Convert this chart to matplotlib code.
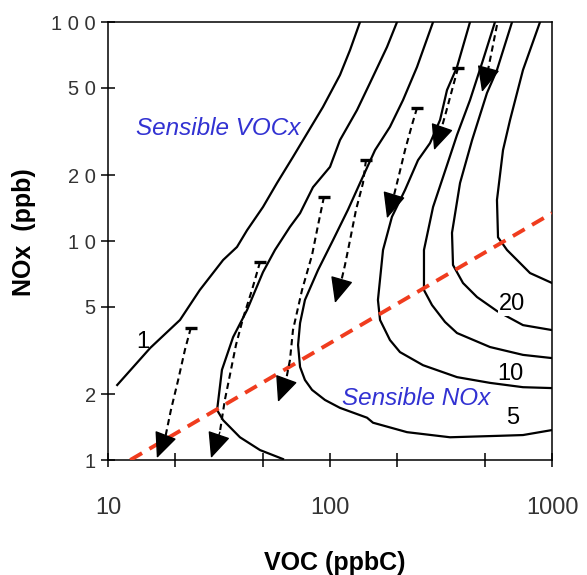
import matplotlib
matplotlib.use("Agg")
import matplotlib.pyplot as plt
from matplotlib.ticker import FixedLocator, FixedFormatter, NullLocator

plt.rcParams['font.family'] = ['Liberation Sans', 'DejaVu Sans']

# ozone isopleths, VOC (ppbC) vs NOx (ppb)
voc_1 = [11.0, 15.5, 21.1, 25.9, 33.0, 38.1, 42.3, 49.9, 57.7, 68.1, 79.6, 92.9, 110.9, 123.1, 136.5]
nox_1 = [2.20, 3.25, 4.36, 5.97, 8.19, 9.39, 11.2, 14.3, 18.4, 24.2, 31.5, 40.9, 57.3, 74.5, 100]

voc_2 = [200.4, 180.6, 151.4, 132.3, 110.9, 100, 83.8, 73.3, 66.0, 56.5, 49.9, 42.3, 36.6, 32.6, 31.0,
         33.0, 39.3, 48.4, 61.4]
nox_2 = [100, 76.9, 52.7, 39.6, 28.9, 21.8, 17.6, 13.4, 11.6, 9.10, 7.21, 4.84, 3.64, 2.58, 1.69,
         1.52, 1.27, 1.11, 1.01]

voc_5 = [291.2, 246.5, 213.2, 186.2, 159.5, 136.5, 120.5, 103.2, 88.3, 77.1, 73.3, 71.8, 73.3, 77.1,
         83.0, 94.9, 110.9, 146.8, 156.2, 222.3, 347.2, 583.4, 740, 1000]
nox_5 = [100, 62.3, 44.0, 33.2, 26.0, 18.4, 13.9, 10.1, 7.37, 5.38, 4.22, 3.35, 2.66, 2.32,
         2.09, 1.88, 1.73, 1.56, 1.48, 1.34, 1.27, 1.29, 1.30, 1.37]

voc_10 = [427.2, 373.3, 336.5, 313.1, 282.2, 249.1, 217.7, 190.1, 173.3, 164.4, 168, 186.2, 206.6,
          262.3, 373.3, 525.6, 740, 1000]
nox_10 = [100, 62.3, 48.9, 35.7, 28.0, 23.4, 17.1, 12.9, 9.10, 5.38, 4.36, 3.53, 3.11,
          2.71, 2.39, 2.25, 2.15, 2.13]

voc_15 = [553.4, 488.7, 427.2, 373.3, 336.5, 291.2, 265, 265, 288, 329.6, 373.3, 525.6, 740, 1000]
nox_15 = [100, 67.0, 44.0, 30.5, 22.2, 14.3, 9.10, 5.97, 5.10, 4.27, 3.80, 3.28, 3.02, 2.92]

voc_20 = [660.7, 565, 509.3, 436.5, 385.2, 354.4, 358.1, 397.2, 459.2, 565, 740, 1000]
nox_20 = [100, 60.4, 47.4, 28.9, 18.4, 10.9, 7.77, 6.43, 5.55, 4.79, 4.13, 3.92]

voc_40 = [883.1, 740, 647.1, 601.5, 565, 571.2, 627, 695.6, 796, 1000]
nox_40 = [100, 60.4, 35.7, 26.0, 15.4, 10.4, 9.10, 8.19, 7.14, 6.43]

# ridge line separating the two regimes
voc_ridge = [12.6, 1000]
nox_ridge = [1.0, 13.4]

# trajectories: dashed path then arrow tip
arrow_voc = [
    [23.6, 22.2, 20.7, 19.2, 18.2],
    [48.4, 44.5, 40.6, 37.7, 35.4, 33.6, 31.9],
    [93.9, 88.3, 83.0, 74.8, 68.1, 66.0, 63.4],
    [145.2, 140.8, 131, 123.1, 116.8, 112.1],
    [246.5, 234, 217.7, 204.5, 194.2],
    [377.2, 354.4, 333.2, 316.2],
    [565, 536.7, 514.8],
]
arrow_nox = [
    [4.01, 3.18, 2.32, 1.69, 1.30],
    [8.02, 5.97, 4.45, 3.35, 2.44, 1.88, 1.34],
    [15.9, 11.8, 8.63, 5.97, 3.92, 2.86, 2.32],
    [23.4, 18.4, 13.9, 10.1, 7.77, 6.50],
    [40.5, 33.9, 26.0, 20.0, 16.2],
    [61.7, 48.9, 38.8, 32.1],
    [96.9, 74.5, 60.4],
]
tip_voc = [16.6, 29.1, 58.3, 105.3, 180.6, 294.2, 483.9]
tip_nox = [1.02, 1.02, 1.84, 5.21, 12.7, 26.0, 47.9]
has_bar = [True, True, True, True, True, True, False]

x_ticks = [10, 20, 50, 100, 200, 500, 1000]
x_labels = ['10', '', '', '100', '', '', '1000']
y_ticks = [1, 2, 5, 10, 20, 50, 100]
y_labels = ['1', '2', '5', '1 0', '2 0', '5 0', '1 0 0']

fig = plt.figure(figsize=(5.87, 5.75), dpi=100)
ax = fig.add_axes([0.184, 0.2, 0.7564, 0.7617])
ax.set_xscale('log')
ax.set_yscale('log')
ax.set_xlim(10, 1000)
ax.set_ylim(1, 100)

for vx, vy in [(voc_1, nox_1), (voc_2, nox_2), (voc_5, nox_5), (voc_10, nox_10),
               (voc_15, nox_15), (voc_20, nox_20), (voc_40, nox_40)]:
    ax.plot(vx, vy, color='black', lw=1.6, solid_joinstyle='round')

ax.plot(voc_ridge, nox_ridge, color='#f03c1e', lw=2.8, linestyle=(0, (3.5, 2.2)), zorder=4)

for vx, vy, tx, ty, bar in zip(arrow_voc, arrow_nox, tip_voc, tip_nox, has_bar):
    ax.plot(vx, vy, color='black', lw=1.5, linestyle=(0, (3, 2)), zorder=5)
    if bar:
        ax.plot(vx[0], vy[0], marker='_', markersize=9, mew=2.4, color='black', zorder=5)
    ax.annotate('', xy=(tx, ty), xytext=(vx[-1], vy[-1]),
                arrowprops=dict(arrowstyle='-|>,head_length=0.9,head_width=0.4',
                                color='black', lw=1, shrinkA=0, shrinkB=0,
                                mutation_scale=18), zorder=6)

# contour labels
lab_kw = dict(fontsize=17, color='black', ha='center', va='center')
ax.text(14.4, 3.46, '1', **lab_kw)
ax.text(660, 5.16, '20', bbox=dict(facecolor='white', edgecolor='none', pad=0.5), **lab_kw)
ax.text(647, 2.47, '10', **lab_kw)
ax.text(667, 1.56, '5', **lab_kw)

ax.text(31.3, 32.8, 'Sensible VOCx', fontsize=17.5, style='italic', color='#3232d2',
        ha='center', va='center')
ax.text(243.8, 1.90, 'Sensible NOx', fontsize=17.5, style='italic', color='#3232d2',
        ha='center', va='center')

for s in ax.spines.values():
    s.set_linewidth(1.1)

ax.xaxis.set_major_locator(FixedLocator(x_ticks))
ax.xaxis.set_major_formatter(FixedFormatter(x_labels))
ax.xaxis.set_minor_locator(NullLocator())
ax.yaxis.set_major_locator(FixedLocator(y_ticks))
ax.yaxis.set_major_formatter(FixedFormatter(y_labels))
ax.yaxis.set_minor_locator(NullLocator())
ax.tick_params(axis='both', direction='inout', length=9.5, width=1.1, top=False, right=False,
               labelcolor='#333333')
ax.tick_params(axis='x', pad=22, labelsize=17)
ax.tick_params(axis='y', pad=4, labelsize=14.5)

fig.text(0.571, 0.021, 'VOC (ppbC)', fontsize=18, fontweight='bold', ha='center', va='center')
fig.text(0.041, 0.5965, 'NOx  (ppb)', fontsize=18, fontweight='bold', ha='center', va='center',
         rotation=90)

fig.savefig('out.png', dpi=100)
